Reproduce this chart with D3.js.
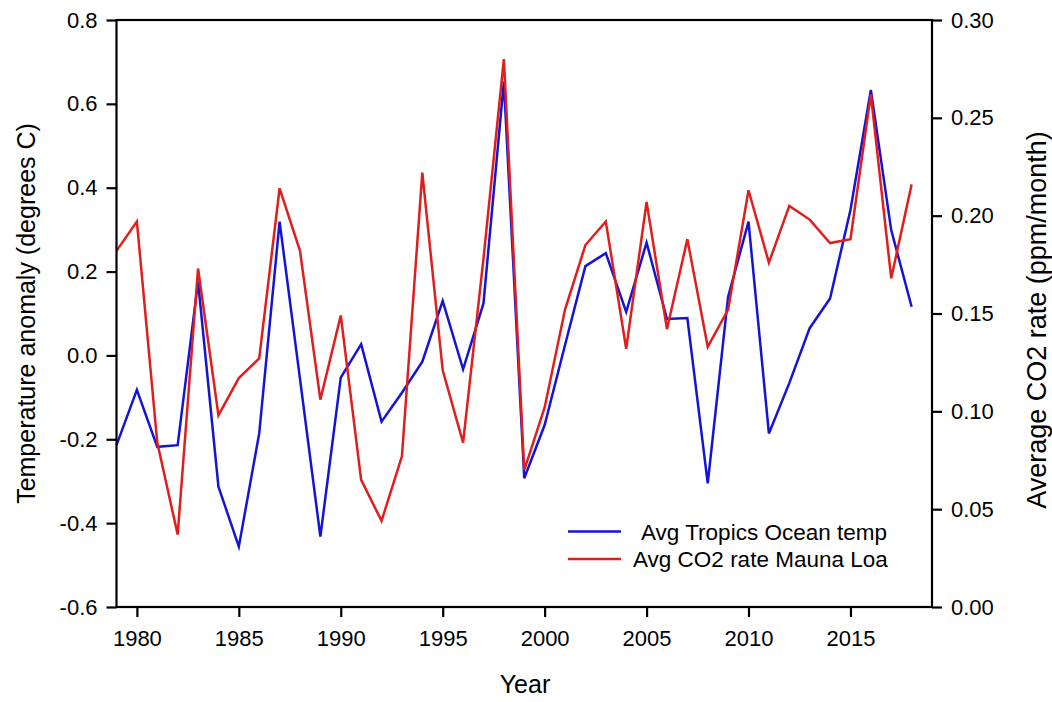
<!DOCTYPE html>
<html>
<head>
<meta charset="utf-8">
<script src="https://cdn.jsdelivr.net/npm/d3@7"></script>
<style>
  html, body { margin: 0; padding: 0; background: #fff; }
  svg { display: block; font-family: "Liberation Sans", Arial, sans-serif; }
</style>
</head>
<body>
<svg id="chart" width="1052" height="702"></svg>
<script>
// Yearly series, 1979–2018
const years = d3.range(1979, 2019);
const tropicsOceanTemp = [
  -0.214, -0.082, -0.218, -0.214, 0.176, -0.313, -0.456, -0.186, 0.319, -0.056,
  -0.432, -0.053, 0.027, -0.158, -0.089, -0.015, 0.130, -0.033, 0.124, 0.653,
  -0.293, -0.166, 0.025, 0.213, 0.244, 0.104, 0.269, 0.087, 0.089, -0.305,
  0.140, 0.319, -0.186, -0.066, 0.065, 0.136, 0.347, 0.633, 0.299, 0.116
];
const co2RateMaunaLoa = [
  0.182, 0.197, 0.084, 0.037, 0.173, 0.098, 0.117, 0.127, 0.214, 0.182,
  0.106, 0.149, 0.065, 0.044, 0.077, 0.222, 0.121, 0.084, 0.178, 0.280,
  0.070, 0.102, 0.152, 0.185, 0.197, 0.132, 0.207, 0.142, 0.188, 0.133,
  0.152, 0.213, 0.176, 0.205, 0.198, 0.186, 0.188, 0.262, 0.168, 0.216
];
const xTicks = [1980, 1985, 1990, 1995, 2000, 2005, 2010, 2015];
const leftTicks = [-0.6, -0.4, -0.2, 0.0, 0.2, 0.4, 0.6, 0.8];
const rightTicks = [0.00, 0.05, 0.10, 0.15, 0.20, 0.25, 0.30];
const seriesNames = ["Avg Tropics Ocean temp", "Avg CO2 rate Mauna Loa"];

const BLUE = "#1414d6";
const RED = "#e01e1e";

const svg = d3.select("#chart");
const plot = { left: 116.5, right: 932, top: 20, bottom: 607 };

const x = d3.scaleLinear().domain([1979, 2019]).range([plot.left, plot.right]);
const yL = d3.scaleLinear().domain([-0.6, 0.8]).range([plot.bottom, plot.top]);
const yR = d3.scaleLinear().domain([0, 0.30]).range([plot.bottom, plot.top]);

// Plain hyphen for negative numbers
const fmt = spec => { const f = d3.format(spec); return v => f(v).replace("\u2212", "-"); };

// Axes
const tickFont = "22px";
const styleAxis = g => {
  g.attr("font-size", null).attr("font-family", null);
  g.select(".domain").remove();
  g.selectAll(".tick line").attr("stroke", "#000").attr("stroke-width", 2.2);
  g.selectAll(".tick text").attr("fill", "#000").style("font-size", tickFont);
};

svg.append("g")
  .attr("transform", `translate(0,${plot.bottom})`)
  .call(d3.axisBottom(x).tickValues(xTicks).tickFormat(d3.format("d"))
    .tickSize(10).tickPadding(13))
  .call(styleAxis);

svg.append("g")
  .attr("transform", `translate(${plot.left},0)`)
  .call(d3.axisLeft(yL).tickValues(leftTicks).tickFormat(fmt(".1f"))
    .tickSize(10).tickPadding(9))
  .call(styleAxis);

svg.append("g")
  .attr("transform", `translate(${plot.right},0)`)
  .call(d3.axisRight(yR).tickValues(rightTicks).tickFormat(fmt(".2f"))
    .tickSize(10).tickPadding(9))
  .call(styleAxis);

// Data lines
const lineL = d3.line().x((d, i) => x(years[i])).y(d => yL(d));
const lineR = d3.line().x((d, i) => x(years[i])).y(d => yR(d));

svg.append("path").datum(tropicsOceanTemp)
  .attr("d", lineL).attr("fill", "none")
  .attr("stroke", BLUE).attr("stroke-width", 2.5).attr("stroke-linejoin", "miter");

svg.append("path").datum(co2RateMaunaLoa)
  .attr("d", lineR).attr("fill", "none")
  .attr("stroke", RED).attr("stroke-width", 2.5).attr("stroke-linejoin", "miter");

// Frame
svg.append("rect")
  .attr("x", plot.left).attr("y", plot.top)
  .attr("width", plot.right - plot.left).attr("height", plot.bottom - plot.top)
  .attr("fill", "none").attr("stroke", "#000").attr("stroke-width", 2.2);

// Axis titles
svg.append("text")
  .attr("x", 525).attr("y", 693)
  .attr("text-anchor", "middle").style("font-size", "25px").text("Year");

svg.append("text")
  .attr("transform", `translate(35,${(plot.top + plot.bottom) / 2}) rotate(-90)`)
  .attr("text-anchor", "middle").style("font-size", "25px")
  .text("Temperature anomaly (degrees C)");

svg.append("text")
  .attr("transform", `translate(1046,320) rotate(-90)`)
  .attr("text-anchor", "middle").style("font-size", "27px")
  .text("Average CO2 rate (ppm/month)");

// Legend
const legend = svg.append("g");
const legendRows = [
  { name: seriesNames[0], color: BLUE, y: 531.5, tx: 641 },
  { name: seriesNames[1], color: RED, y: 559, tx: 633 }
];
legendRows.forEach(r => {
  legend.append("line")
    .attr("x1", 568).attr("x2", 621).attr("y1", r.y).attr("y2", r.y)
    .attr("stroke", r.color).attr("stroke-width", 2.4);
  legend.append("text")
    .attr("x", r.tx).attr("y", r.y + 8)
    .style("font-size", "22.5px").text(r.name);
});
</script>
</body>
</html>
